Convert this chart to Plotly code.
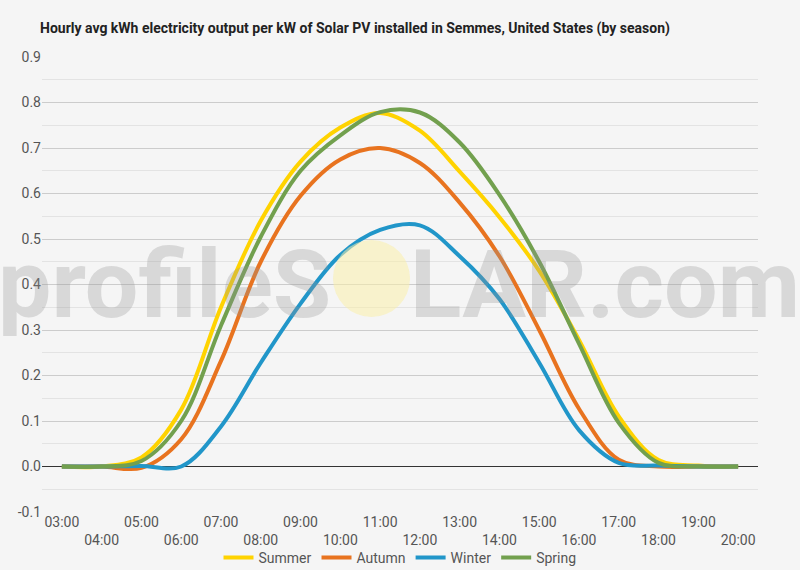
import plotly.graph_objects as go

# hourly averages
hours = ["03:00", "04:00", "05:00", "06:00", "07:00", "08:00", "09:00", "10:00", "11:00",
         "12:00", "13:00", "14:00", "15:00", "16:00", "17:00", "18:00", "19:00", "20:00"]

summer = [0.0, 0.0, 0.02, 0.125, 0.35, 0.54, 0.67, 0.745, 0.777,
          0.738, 0.648, 0.548, 0.43, 0.278, 0.11, 0.014, 0.002, 0.0]
autumn = [0.0, 0.0, -0.003, 0.06, 0.232, 0.45, 0.595, 0.675, 0.70,
          0.667, 0.58, 0.462, 0.30, 0.127, 0.015, 0.0, 0.0, 0.0]
winter = [0.0, 0.0, 0.001, 0.0, 0.088, 0.228, 0.358, 0.465, 0.52,
          0.53, 0.462, 0.368, 0.228, 0.08, 0.008, 0.002, 0.0, 0.0]
spring = [0.0, 0.0, 0.012, 0.10, 0.31, 0.505, 0.65, 0.728, 0.779,
          0.778, 0.712, 0.597, 0.45, 0.27, 0.096, 0.008, 0.0, 0.0]

y_ticks = [-0.1, 0.0, 0.1, 0.2, 0.3, 0.4, 0.5, 0.6, 0.7, 0.8, 0.9]
y_tick_labels = ["-0.1", "0.0", "0.1", "0.2", "0.3", "0.4", "0.5", "0.6", "0.7", "0.8", "0.9"]

series = [
    ("Summer", summer, "#FFD300"),
    ("Autumn", autumn, "#E8731F"),
    ("Winter", winter, "#2196C9"),
    ("Spring", spring, "#72A04E"),
]

fig = go.Figure()
for name, vals, col in series:
    fig.add_trace(go.Scatter(
        x=list(range(len(hours))), y=vals, name=name, mode="lines",
        line=dict(color=col, width=4, shape="spline", smoothing=1.0),
    ))

# staggered x tick labels: every other label drops to a second row
x_text = [h if i % 2 == 0 else " <br>" + h for i, h in enumerate(hours)]

W, H = 800, 570
L, R, T, B = 42, 42, 57, 58
pw, ph = W - L - R, H - T - B


def px(x):
    return (x - L) / pw


def py(y):
    return (H - B - y) / ph


wm_font = dict(family="Roboto", size=95, weight="bold", color="rgba(150,150,150,0.30)")

fig.update_layout(
    width=W, height=H,
    margin=dict(l=L, r=R, t=T, b=B, autoexpand=False),
    paper_bgcolor="#f5f5f5", plot_bgcolor="#f5f5f5",
    font=dict(family="Roboto", size=14, color="#555555"),
    title=dict(
        text="<b>Hourly avg kWh electricity output per kW of Solar PV installed in Semmes, United States (by season)</b>",
        x=40 / W, xanchor="left", y=1 - 28 / H, yanchor="middle",
        font=dict(family="Roboto", size=14, color="#222222"),
    ),
    xaxis=dict(
        range=[-0.5, len(hours) - 0.5],
        tickvals=list(range(len(hours))), ticktext=x_text,
        showgrid=False, zeroline=False, showline=False, ticks="",
        automargin=False,
        tickfont=dict(size=14, color="#555555"),
    ),
    yaxis=dict(
        range=[-0.1, 0.9],
        tickvals=y_ticks, ticktext=y_tick_labels,
        showgrid=True, gridcolor="#cccccc", gridwidth=1,
        zeroline=True, zerolinecolor="#333333", zerolinewidth=1,
        showline=False, ticks="", automargin=False,
        minor=dict(dtick=0.05, tick0=0, showgrid=True, gridcolor="#e3e3e3", gridwidth=1),
        tickfont=dict(size=14, color="#555555"),
    ),
    legend=dict(
        orientation="h", x=0.5, xanchor="center", y=py(558), yanchor="middle",
        font=dict(size=14, color="#555555"), bgcolor="rgba(0,0,0,0)",
        itemwidth=30, tracegroupgap=0,
    ),
    showlegend=True,
)

# watermark: "profileS" + sun + "LAR.com"
fig.add_shape(
    type="circle", xref="paper", yref="paper",
    x0=px(333), x1=px(410), y0=py(317), y1=py(240),
    fillcolor="rgba(250,238,170,0.55)", line=dict(width=0), layer="above",
)
fig.add_annotation(
    text="profileS", xref="paper", yref="paper", x=px(333), y=py(284),
    xanchor="right", yanchor="middle", showarrow=False, font=wm_font,
)
fig.add_annotation(
    text="LAR.com", xref="paper", yref="paper", x=px(408), y=py(284),
    xanchor="left", yanchor="middle", showarrow=False, font=wm_font,
)

fig.write_html("out.html", config={"displayModeBar": False},
               post_script="document.body.style.margin='0px';")
